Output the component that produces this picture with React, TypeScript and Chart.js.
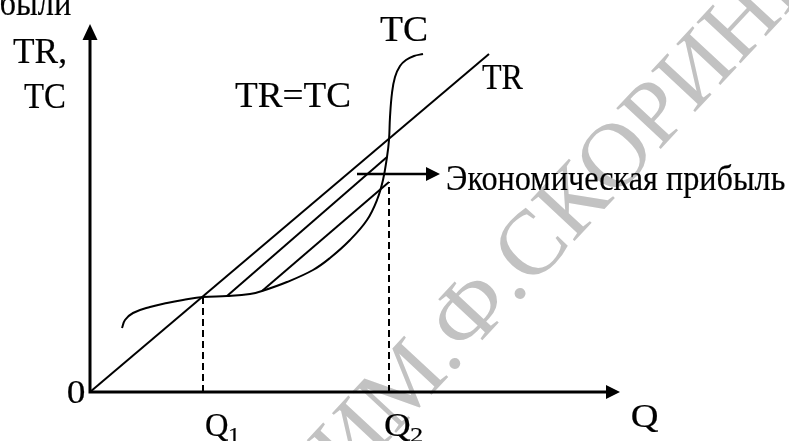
import React, { useEffect, useRef } from "react";
import { Chart, registerables } from "chart.js";

Chart.register(...registerables);

// ---- data (Q on x, money on y) ----
const trQ = [0, 399];
const trRevenue = [0, 338];

const tcQ = [32, 35, 43, 60, 77, 93, 113, 137, 160, 172, 197, 223, 240, 260, 277, 287, 293, 297, 299, 300, 302, 305, 310, 316, 324, 333];
const tcCost = [64, 72, 79, 85, 89, 92, 95, 96, 98, 101, 110, 122, 134, 152, 172, 192, 212, 235, 252, 275, 299, 315, 326, 332, 336, 338];

const hatch1Q = [137, 297];
const hatch1V = [96, 235];
const hatch2Q = [172, 299];
const hatch2V = [101, 210];

const q1Q = [113, 113];
const q1V = [0, 95];
const q2Q = [299, 299];
const q2V = [0, 210];

const axisQMax = 530;
const axisVMax = 368;

const profitArrowQ = [267, 350];
const profitArrowV = [218, 218];

const pts = (xs: number[], ys: number[]) => xs.map((x, i) => ({ x, y: ys[i] }));

const FONT = '"Liberation Serif", "Times New Roman", serif';

function drawFit(ctx: CanvasRenderingContext2D, text: string, left: number, baseline: number, size: number, inkWidth: number) {
  ctx.save();
  ctx.font = `${size}px ${FONT}`;
  ctx.textAlign = "left";
  ctx.textBaseline = "alphabetic";
  const m = ctx.measureText(text);
  const w = m.actualBoundingBoxLeft + m.actualBoundingBoxRight;
  const sx = inkWidth / w;
  ctx.translate(left + m.actualBoundingBoxLeft * sx, baseline);
  ctx.scale(sx, 1);
  ctx.fillStyle = "#000";
  ctx.strokeStyle = "#000";
  ctx.lineWidth = 0.2;
  ctx.fillText(text, 0, 0);
  ctx.strokeText(text, 0, 0);
  ctx.restore();
}

function drawRight(ctx: CanvasRenderingContext2D, text: string, right: number, baseline: number, size: number, sx: number) {
  ctx.save();
  ctx.font = `${size}px ${FONT}`;
  ctx.textAlign = "left";
  ctx.textBaseline = "alphabetic";
  const m = ctx.measureText(text);
  ctx.translate(right - m.actualBoundingBoxRight * sx, baseline);
  ctx.scale(sx, 1);
  ctx.fillStyle = "#000";
  ctx.strokeStyle = "#000";
  ctx.lineWidth = 0.2;
  ctx.fillText(text, 0, 0);
  ctx.strokeText(text, 0, 0);
  ctx.restore();
}

function arrowHead(ctx: CanvasRenderingContext2D, tx: number, ty: number, dx: number, dy: number, len: number, half: number) {
  const bx = tx - dx * len;
  const by = ty - dy * len;
  const px = -dy, py = dx;
  ctx.beginPath();
  ctx.moveTo(tx, ty);
  ctx.lineTo(bx + px * half, by + py * half);
  ctx.lineTo(bx - px * half, by - py * half);
  ctx.closePath();
  ctx.fill();
}

const decorPlugin = {
  id: "decor",
  beforeDatasetsDraw(chart: any) {
    const ctx: CanvasRenderingContext2D = chart.ctx;
    // watermark
    ctx.save();
    ctx.font = `92px ${FONT}`;
    ctx.fillStyle = "#c2c2c2";
    ctx.textAlign = "left";
    ctx.textBaseline = "alphabetic";
    const prefix = "РЕПОЗИТОРИЙ ГГУ ИМ.Ф.";
    const full = prefix + "СКОРИНЫ";
    ctx.translate(531, 288);
    ctx.rotate((-47 * Math.PI) / 180);
    const pw = ctx.measureText(prefix).width;
    ctx.fillText(full, -pw, 0);
    ctx.restore();
  },
  afterDatasetsDraw(chart: any) {
    const ctx: CanvasRenderingContext2D = chart.ctx;
    const xs = chart.scales.x;
    const ys = chart.scales.y;
    const X = (v: number) => xs.getPixelForValue(v);
    const Y = (v: number) => ys.getPixelForValue(v);

    ctx.save();
    ctx.strokeStyle = "#000";
    ctx.fillStyle = "#000";
    ctx.lineCap = "butt";
    // axes
    ctx.lineWidth = 3;
    ctx.beginPath();
    ctx.moveTo(X(0), Y(0));
    ctx.lineTo(X(axisQMax) - 10, Y(0));
    ctx.moveTo(X(0), Y(0) + 1.5);
    ctx.lineTo(X(0), Y(axisVMax) + 12);
    ctx.stroke();
    arrowHead(ctx, X(axisQMax), Y(0), 1, 0, 14, 7);
    arrowHead(ctx, X(0), Y(axisVMax), 0, -1, 16, 7.5);

    // profit arrow
    ctx.lineWidth = 2.5;
    ctx.beginPath();
    ctx.moveTo(X(profitArrowQ[0]), Y(profitArrowV[0]));
    ctx.lineTo(X(profitArrowQ[1]) - 10, Y(profitArrowV[1]));
    ctx.stroke();
    arrowHead(ctx, X(profitArrowQ[1]), Y(profitArrowV[1]), 1, 0, 14, 7);
    ctx.restore();

    // labels
    drawRight(ctx, "прибыли", 71, 15, 36, 0.9);
    drawFit(ctx, "TR,", 13, 63, 36, 52);
    drawFit(ctx, "TC", 24, 108, 36, 41);
    drawFit(ctx, "TR=TC", 235, 107, 36, 115);
    drawFit(ctx, "TC", 380, 41, 36, 47);
    drawFit(ctx, "TR", 482, 89, 36, 41);
    drawFit(ctx, "Экономическая прибыль", 447, 190, 36, 338);
    drawFit(ctx, "0", 68, 403, 33, 17);
    drawFit(ctx, "Q", 632, 427, 34, 26);
    drawFit(ctx, "Q", 206, 436, 34, 22);
    drawFit(ctx, "1", 229, 442, 22, 10);
    drawFit(ctx, "Q", 385, 436, 34, 25);
    drawFit(ctx, "2", 410, 442, 22, 12);
  },
};

export default function App() {
  const ref = useRef<HTMLCanvasElement | null>(null);
  useEffect(() => {
    if (!ref.current) return;
    const line = (data: any[], extra: any = {}) => ({
      data,
      showLine: true,
      borderColor: "#000",
      borderWidth: 2,
      pointRadius: 0,
      pointHoverRadius: 0,
      fill: false,
      tension: 0,
      clip: false,
      ...extra,
    });
    const chart = new Chart(ref.current, {
      type: "scatter",
      data: {
        datasets: [
          line(pts(trQ, trRevenue), { label: "TR" }),
          line(pts(tcQ, tcCost), { label: "TC", tension: 0.4 }),
          line(pts(hatch1Q, hatch1V), { label: "h1" }),
          line(pts(hatch2Q, hatch2V), { label: "h2" }),
          line(pts(q1Q, q1V), { label: "Q1", borderDash: [7, 4] }),
          line(pts(q2Q, q2V), { label: "Q2", borderDash: [7, 4] }),
        ],
      },
      options: {
        animation: false,
        responsive: false,
        devicePixelRatio: 1,
        layout: { padding: { left: 90, right: 169, top: 24, bottom: 49 } },
        plugins: { legend: { display: false }, tooltip: { enabled: false }, title: { display: false } },
        events: [],
        scales: {
          x: { type: "linear", min: 0, max: axisQMax, display: false },
          y: { type: "linear", min: 0, max: axisVMax, display: false },
        },
      },
      plugins: [decorPlugin],
    });
    return () => chart.destroy();
  }, []);
  return (
    <div style={{ position: "absolute", left: 0, top: 0, width: 789, height: 441, background: "#fff" }}>
      <canvas ref={ref} width={789} height={441} style={{ display: "block" }} />
    </div>
  );
}
